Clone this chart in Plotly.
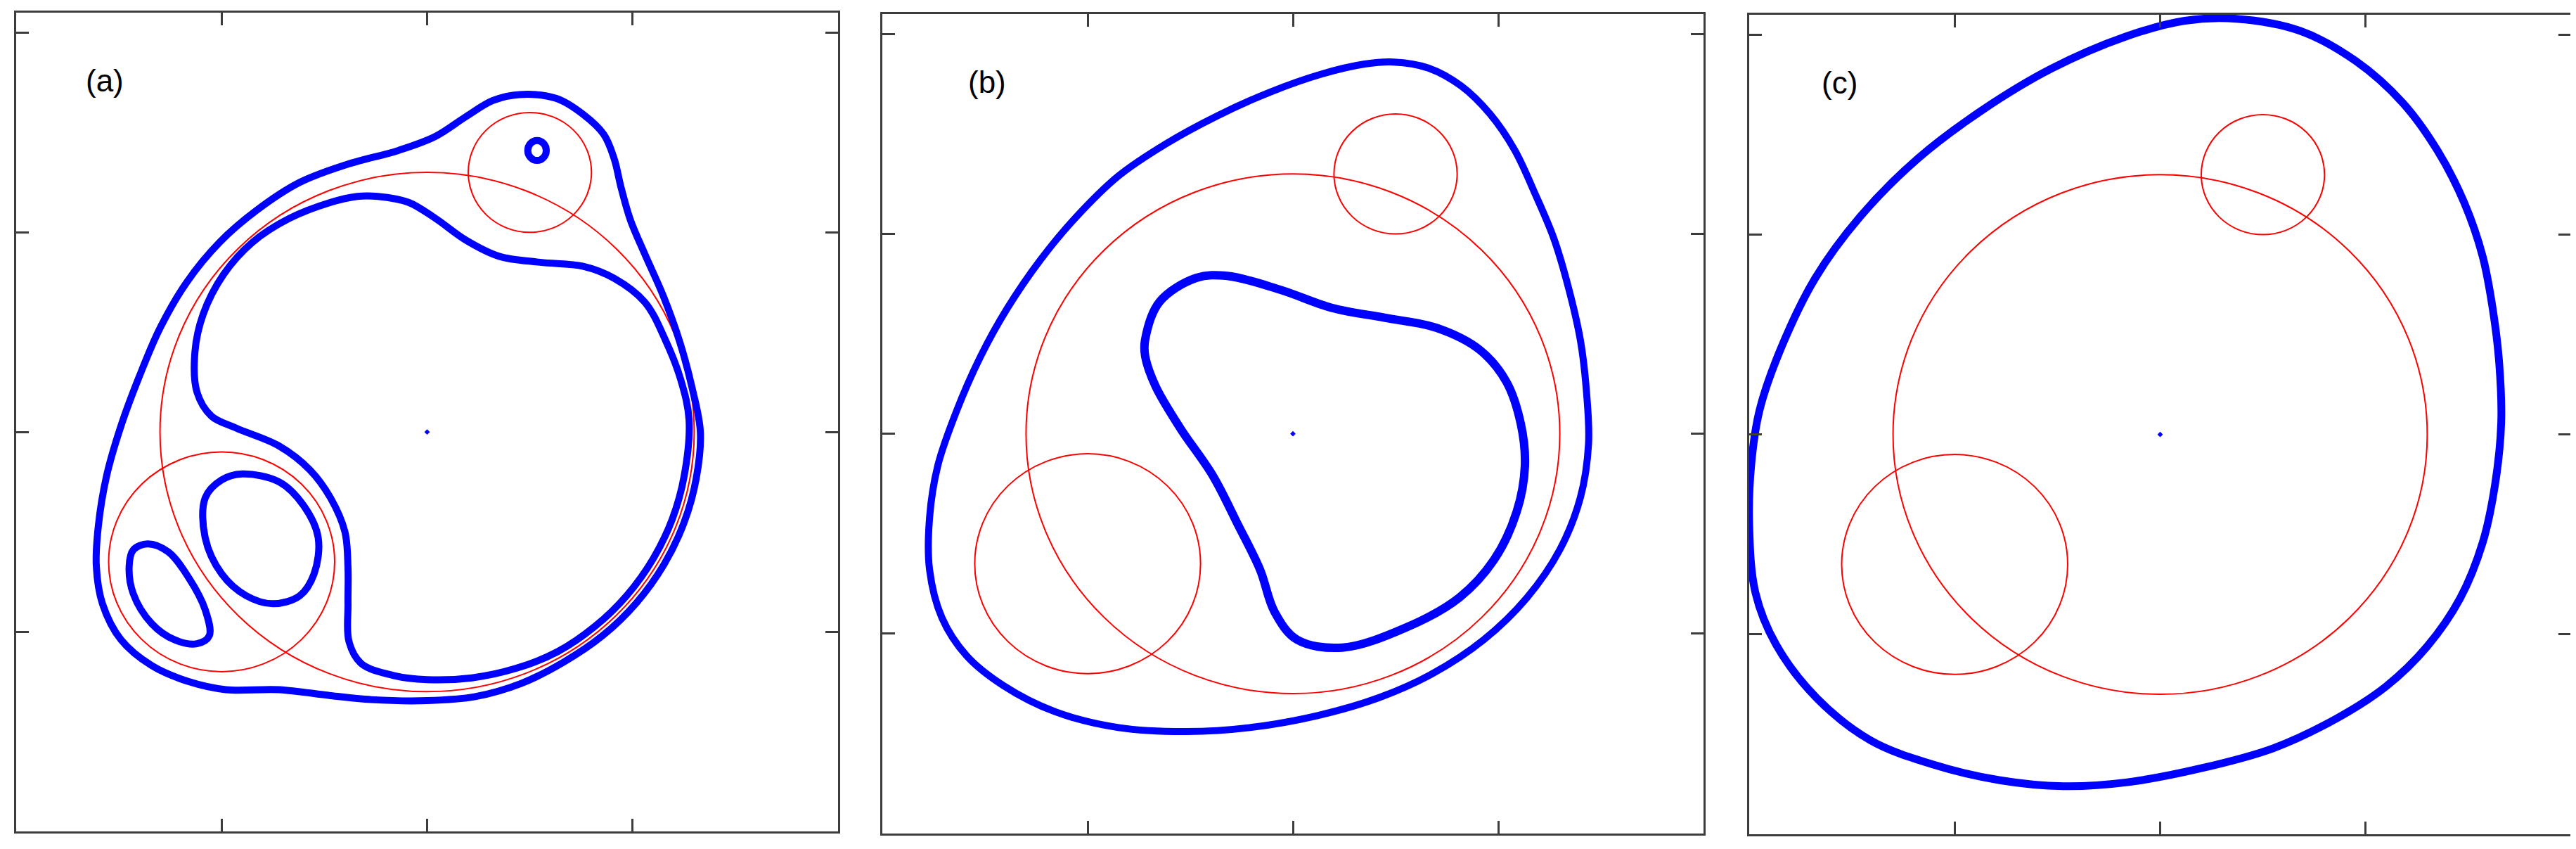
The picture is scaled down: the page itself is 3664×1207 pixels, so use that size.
import plotly.graph_objects as go

# ---------------- data (data units) ----------------
panel_labels = ["(a)", "(b)", "(c)"]
label_x = [-1.57, -1.49, -1.56]
label_y = [1.76, 1.76, 1.76]

# red circles (same in every panel): centre x, centre y, radius
circle_cx = [0.0, 0.5, -1.0]
circle_cy = [0.0, 1.3, -0.65]
circle_r = [1.3, 0.3, 0.55]

# central point
centre_x = [0.0]
centre_y = [0.0]

# ---- panel (a) ----
a_outer_x = [0.45, 0.63, 0.76, 0.86, 0.91, 0.945, 0.99, 1.06, 1.15, 1.23, 1.29,
             1.33, 1.310, 1.250, 1.152, 1.019, 0.855, 0.665, 0.458, 0.234, 0.0,
             -0.27, -0.47, -0.72, -0.98, -1.16, -1.34, -1.49, -1.58, -1.61, -1.60,
             -1.56, -1.49, -1.40, -1.30, -1.17, -1.01, -0.83, -0.62, -0.39, -0.14,
             0.04, 0.19, 0.32]
a_outer_y = [1.69, 1.67, 1.59, 1.49, 1.37, 1.22, 1.06, 0.89, 0.68, 0.45, 0.22,
             0.0, -0.231, -0.455, -0.665, -0.855, -1.019, -1.152, -1.259, -1.325, -1.345,
             -1.34, -1.32, -1.29, -1.29, -1.25, -1.17, -1.04, -0.86, -0.67, -0.47,
             -0.22, 0.03, 0.28, 0.52, 0.75, 0.95, 1.11, 1.25, 1.34, 1.41,
             1.48, 1.58, 1.66]

a_inner_x = [-0.24, -0.09, 0.04, 0.19, 0.35, 0.55, 0.76, 0.91, 1.06, 1.16, 1.235,
             1.275, 1.251, 1.194, 1.100, 0.973, 0.817, 0.635, 0.431, 0.218, 0.0,
             -0.16, -0.32, -0.38, -0.385, -0.385, -0.40, -0.47, -0.57, -0.72, -0.93,
             -1.05, -1.12, -1.13, -1.09, -0.99, -0.85, -0.67, -0.47, -0.34]
a_inner_y = [1.18, 1.15, 1.07, 0.96, 0.88, 0.85, 0.83, 0.77, 0.65, 0.46, 0.26,
             0.06, -0.221, -0.434, -0.635, -0.817, -0.973, -1.100, -1.184, -1.231, -1.24,
             -1.22, -1.16, -1.05, -0.86, -0.68, -0.50, -0.33, -0.19, -0.07, 0.02,
             0.08, 0.20, 0.40, 0.59, 0.79, 0.95, 1.07, 1.15, 1.18]

a_loop1_x = [-0.90, -0.72, -0.60, -0.53, -0.55, -0.62, -0.75, -0.88, -1.00, -1.08, -1.08, -1.00]
a_loop1_y = [-0.21, -0.25, -0.37, -0.53, -0.71, -0.82, -0.86, -0.82, -0.71, -0.53, -0.33, -0.24]

a_loop2_x = [-1.36, -1.26, -1.16, -1.08, -1.06, -1.12, -1.23, -1.34, -1.43, -1.45, -1.43]
a_loop2_y = [-0.56, -0.60, -0.73, -0.89, -1.02, -1.06, -1.04, -0.96, -0.81, -0.67, -0.59]

a_tiny_x = [0.580, 0.567, 0.535, 0.503, 0.490, 0.503, 0.535, 0.567]
a_tiny_y = [1.410, 1.445, 1.460, 1.445, 1.410, 1.375, 1.360, 1.375]

# ---- panel (b) ----
b_outer_x = [0.49, 0.66, 0.82, 0.96, 1.08, 1.18, 1.27, 1.34, 1.40, 1.43, 1.44, 1.40,
             1.30, 1.14, 0.93, 0.68, 0.42, 0.12, -0.21, -0.52, -0.85, -1.16, -1.41,
             -1.59, -1.71, -1.77, -1.77, -1.73, -1.64, -1.52, -1.39, -1.23, -1.06,
             -0.85, -0.62, -0.37, -0.11, 0.14, 0.35]
b_outer_y = [1.86, 1.83, 1.74, 1.60, 1.42, 1.20, 0.98, 0.74, 0.47, 0.21, -0.05, -0.32,
             -0.58, -0.82, -1.03, -1.20, -1.32, -1.41, -1.47, -1.49, -1.47, -1.39, -1.26,
             -1.11, -0.92, -0.68, -0.42, -0.16, 0.11, 0.39, 0.63, 0.87, 1.08,
             1.29, 1.45, 1.59, 1.71, 1.80, 1.85]

b_inner_x = [-0.72, -0.65, -0.47, -0.32, -0.06, 0.19, 0.45, 0.70, 0.91, 1.04, 1.11,
             1.13, 1.09, 0.98, 0.81, 0.55, 0.24, 0.02, -0.09, -0.16, -0.27, -0.39,
             -0.55, -0.67, -0.72]
b_inner_y = [0.47, 0.66, 0.78, 0.79, 0.72, 0.63, 0.58, 0.53, 0.42, 0.26, 0.05,
             -0.16, -0.39, -0.63, -0.82, -0.97, -1.07, -1.03, -0.89, -0.68, -0.45, -0.21,
             0.03, 0.24, 0.39]

# ---- panel (c) ----
c_outer_x = [0.37, 0.68, 0.95, 1.18, 1.35, 1.48, 1.57, 1.62, 1.65, 1.66, 1.63, 1.57,
             1.46, 1.30, 1.10, 0.86, 0.55, 0.20, -0.16, -0.47, -0.78, -1.11, -1.41,
             -1.67, -1.87, -1.97, -2.00, -1.99, -1.95, -1.85, -1.68, -1.46, -1.18,
             -0.87, -0.53, -0.17, 0.12]
c_outer_y = [2.08, 2.02, 1.87, 1.66, 1.42, 1.16, 0.89, 0.62, 0.36, 0.06, -0.25, -0.54,
             -0.82, -1.06, -1.26, -1.42, -1.57, -1.67, -1.74, -1.76, -1.73, -1.65, -1.53,
             -1.32, -1.05, -0.79, -0.45, -0.15, 0.12, 0.42, 0.78, 1.09, 1.38,
             1.62, 1.83, 1.99, 2.07]

x_range = [-2.0, 2.0]
y_range = [-2.0, 2.1]
x_ticks = [-1, 0, 1]
y_ticks = [-1, 0, 1, 2]

# ---------------- figure ----------------
BLUE = "rgb(0,0,255)"
RED = "rgb(255,0,0)"
FRAME = "#3c3c3c"

fig = go.Figure()


def closed(xs, ys):
    return list(xs) + [xs[0]], list(ys) + [ys[0]]


def add_curve(xs, ys, axis_idx, width):
    cx, cy = closed(xs, ys)
    sfx = "" if axis_idx == 1 else str(axis_idx)
    fig.add_trace(go.Scatter(x=cx, y=cy, mode="lines",
                             line=dict(color=BLUE, width=width, shape="spline", smoothing=1.0),
                             xaxis="x" + sfx, yaxis="y" + sfx,
                             showlegend=False, hoverinfo="skip"))


add_curve(a_outer_x, a_outer_y, 1, 10)
add_curve(a_inner_x, a_inner_y, 1, 10)
add_curve(a_loop1_x, a_loop1_y, 1, 10)
add_curve(a_loop2_x, a_loop2_y, 1, 10)
add_curve(a_tiny_x, a_tiny_y, 1, 10)
add_curve(b_outer_x, b_outer_y, 2, 10)
add_curve(b_inner_x, b_inner_y, 2, 12)
add_curve(c_outer_x, c_outer_y, 3, 11)

domains_x = [[15 / 3664, 1184 / 3664], [1247 / 3664, 2415 / 3664], [2480 / 3664, 3649 / 3664]]
domains_y = [[33 / 1207, 1197 / 1207], [30 / 1207, 1195 / 1207], [29 / 1207, 1194 / 1207]]

shapes = []
annotations = []
layout_axes = {}
for i in range(3):
    sfx = "" if i == 0 else str(i + 1)
    fig.add_trace(go.Scatter(x=centre_x, y=centre_y, mode="markers",
                             marker=dict(color=BLUE, size=6, symbol="diamond"),
                             xaxis="x" + sfx, yaxis="y" + sfx,
                             showlegend=False, hoverinfo="skip"))
    for cx, cy, r in zip(circle_cx, circle_cy, circle_r):
        shapes.append(dict(type="circle", xref="x" + sfx, yref="y" + sfx,
                           x0=cx - r, x1=cx + r, y0=cy - r, y1=cy + r,
                           line=dict(color=RED, width=2), layer="below"))
    annotations.append(dict(x=label_x[i], y=label_y[i], xref="x" + sfx, yref="y" + sfx,
                            text=panel_labels[i], showarrow=False,
                            font=dict(family="Liberation Sans, Arial", size=44, color="black")))
    common = dict(showgrid=False, zeroline=False, showticklabels=False,
                  ticks="inside", ticklen=18, tickwidth=3, tickcolor=FRAME,
                  showline=True, linecolor=FRAME, linewidth=3, mirror="ticks")
    layout_axes["xaxis" + sfx] = dict(domain=domains_x[i], range=x_range,
                                      tickvals=x_ticks, anchor="y" + sfx, **common)
    layout_axes["yaxis" + sfx] = dict(domain=domains_y[i], range=y_range,
                                      tickvals=y_ticks, anchor="x" + sfx, **common)

fig.update_layout(width=3664, height=1207, margin=dict(l=0, r=0, t=0, b=0),
                  paper_bgcolor="white", plot_bgcolor="white",
                  shapes=shapes, annotations=annotations, **layout_axes)

fig.write_html("out.html")
